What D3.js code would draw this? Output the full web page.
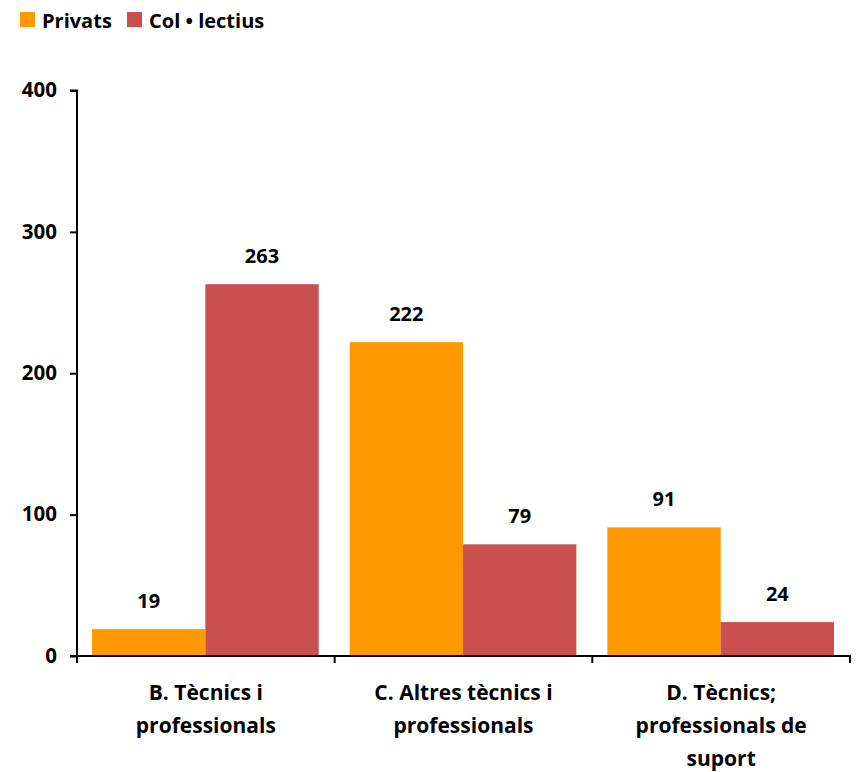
<!DOCTYPE html>
<html>
<head>
<meta charset="utf-8">
<script src="https://cdn.jsdelivr.net/npm/d3@7"></script>
<style>
  body { margin: 0; background: #fff; }
  svg text { font-family: "Open Sans", Lato, sans-serif; font-weight: bold; fill: #000; }
</style>
</head>
<body>
<svg id="chart" width="858" height="772"></svg>
<script>
// data
const categories = [["B. Tècnics i", "professionals"], ["C. Altres tècnics i", "professionals"], ["D. Tècnics;", "professionals de", "suport"]];
const seriesNames = ["Privats", "Col \u2022 lectius"];
const privats = [19, 222, 91];
const collectius = [263, 79, 24];
const yTicks = [0, 100, 200, 300, 400];
const colors = ["#FF9900", "#C8504F"];

const svg = d3.select("#chart");
const plotLeft = 77, plotRight = 850, plotTop = 90.5, plotBottom = 656;

const x0 = d3.scaleBand().domain(d3.range(categories.length)).range([plotLeft, plotRight]).paddingInner(0).paddingOuter(0);
const x1 = d3.scaleBand().domain(d3.range(seriesNames.length)).range([15, x0.bandwidth() - 16]);
const y = d3.scaleLinear().domain([0, 400]).range([plotBottom, plotTop]);

const groups = svg.selectAll(".grp")
    .data(categories.map((c, i) => ({i, values: [privats[i], collectius[i]]})))
    .join("g")
    .attr("transform", d => `translate(${x0(d.i)},0)`);

groups.selectAll("rect")
    .data(d => d.values.map((v, s) => ({v, s})))
    .join("rect")
    .attr("x", d => x1(d.s))
    .attr("width", x1.bandwidth())
    .attr("y", d => y(d.v))
    .attr("height", d => y(0) - y(d.v))
    .attr("fill", d => colors[d.s]);

groups.selectAll(".val")
    .data(d => d.values.map((v, s) => ({v, s})))
    .join("text")
    .attr("class", "val")
    .attr("x", d => x1(d.s) + x1.bandwidth() / 2)
    .attr("y", d => y(d.v) - 21)
    .attr("text-anchor", "middle")
    .style("font-size", "20px")
    .text(d => d.v);

// y axis
const yAxis = svg.append("g")
    .attr("transform", `translate(${plotLeft},0)`)
    .call(d3.axisLeft(y).tickValues(yTicks).tickSize(7).tickPadding(13));
yAxis.selectAll("text").style("font-size", "20.5px").style("font-family", "'Open Sans', sans-serif").attr("dy", "0.3em");
yAxis.select(".domain").attr("stroke", "#000").attr("stroke-width", 2).attr("d", `M-7,${plotTop}H0V${plotBottom}`);
yAxis.selectAll(".tick line").attr("stroke-width", 2);

// x axis
const xLine = svg.append("g").attr("transform", `translate(0,${plotBottom})`);
xLine.append("line").attr("x1", plotLeft - 7).attr("x2", plotRight + 1).attr("stroke", "#000").attr("stroke-width", 2);
xLine.selectAll("line.tk")
    .data(d3.range(categories.length + 1))
    .join("line")
    .attr("class", "tk")
    .attr("x1", i => i < categories.length ? x0(i) : plotRight)
    .attr("x2", i => i < categories.length ? x0(i) : plotRight)
    .attr("y1", 0).attr("y2", 7)
    .attr("stroke", "#000").attr("stroke-width", 2);

// category labels
svg.selectAll(".cat")
    .data(categories)
    .join("text")
    .attr("class", "cat")
    .attr("text-anchor", "middle")
    .style("font-size", "21px")
    .attr("transform", (d, i) => `translate(${x0(i) + x0.bandwidth() / 2},700)`)
    .selectAll("tspan")
    .data(d => d)
    .join("tspan")
    .attr("x", 0)
    .attr("dy", (d, j) => j === 0 ? 0 : 33)
    .text(d => d);

// legend
const legend = svg.append("g").attr("transform", "translate(20,12)");
const lx = [0, 107];
seriesNames.forEach((name, i) => {
    legend.append("rect").attr("x", lx[i]).attr("y", 0).attr("width", 15).attr("height", 15).attr("fill", colors[i]);
    legend.append("text").attr("x", lx[i] + 22).attr("y", 16).style("font-size", "20px").text(name);
});
</script>
</body>
</html>
